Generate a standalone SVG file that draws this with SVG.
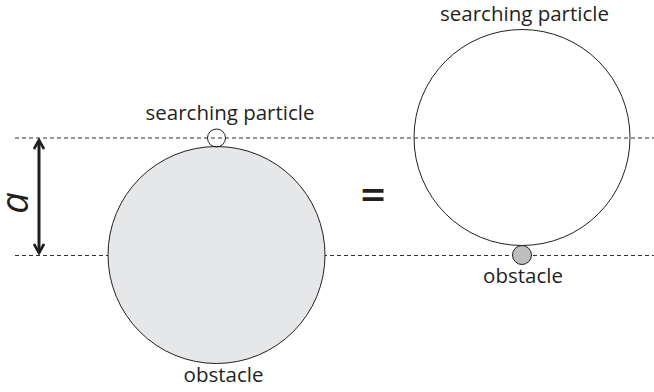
<svg xmlns="http://www.w3.org/2000/svg" width="654" height="392" viewBox="0 0 654 392">
<style>
.lbl{font-family:"Open Sans","Noto Sans","DejaVu Sans",sans-serif;font-size:20.5px;fill:#231f20;text-anchor:middle}
.dash{stroke:#333333;stroke-width:1;stroke-dasharray:4,3;fill:none}
.circ{stroke:#231f20;stroke-width:1}
</style>
<defs>
<marker id="head" viewBox="0 0 12 12" refX="10" refY="6" markerWidth="12" markerHeight="12" markerUnits="userSpaceOnUse" orient="auto-start-reverse">
<path d="M1,1 L10,6 L1,11" fill="none" stroke="#231f20" stroke-width="2.6" stroke-linejoin="miter"/>
</marker>
</defs>
<rect width="654" height="392" fill="#ffffff"/>
<g id="connectors">
<line class="dash" x1="15" y1="138" x2="654" y2="138"/>
<line class="dash" x1="15" y1="255.5" x2="654" y2="255.5"/>
<line x1="39" y1="140" x2="39" y2="253" stroke="#231f20" stroke-width="3" marker-start="url(#head)" marker-end="url(#head)"/>
</g>
<g id="label-a">
<text x="0" y="0" transform="translate(27.5,203) rotate(-90)" font-family="'Open Sans','DejaVu Sans',sans-serif" font-style="italic" font-size="38" fill="#231f20" text-anchor="middle">a</text>
</g>
<g id="obstacle-left">
<circle class="circ" cx="216.5" cy="255" r="108.5" fill="#e6e7e8"/>
<text class="lbl" x="223.5" y="382">obstacle</text>
</g>
<g id="particle-left">
<circle class="circ" cx="216.5" cy="138" r="9" fill="none"/>
<text class="lbl" x="230" y="120">searching particle</text>
</g>
<g id="equals">
<text x="373" y="210" font-family="'Open Sans','DejaVu Sans',sans-serif" font-size="44" font-weight="600" fill="#231f20" text-anchor="middle">=</text>
</g>
<g id="particle-right">
<circle class="circ" cx="522" cy="137.5" r="108" fill="none"/>
<text class="lbl" x="524.5" y="21">searching particle</text>
</g>
<g id="obstacle-right">
<circle class="circ" cx="522" cy="255" r="9.5" fill="#bcbec0"/>
<text class="lbl" x="523" y="283">obstacle</text>
</g>
</svg>
